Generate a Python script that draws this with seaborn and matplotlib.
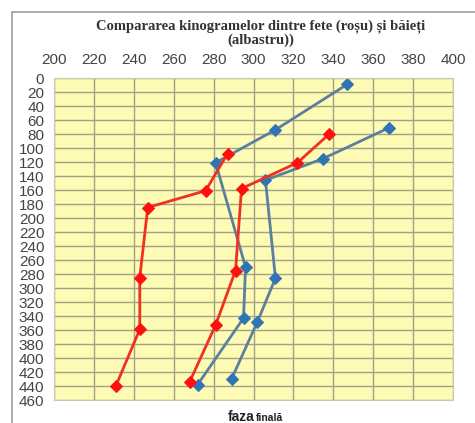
import numpy as np
import matplotlib
matplotlib.use("Agg")
import matplotlib.pyplot as plt
import seaborn as sns

sns.set_style("white")
plt.rcParams["font.family"] = ["Liberation Sans", "DejaVu Sans"]

# kinogram data: x = position, y = frame (0 at top)
blue1_x = [347, 311, 281, 296, 295, 272]
blue1_y = [9, 74, 121, 270, 343, 438]
blue2_x = [368, 335, 306, 311, 302, 289]
blue2_y = [71, 115, 146, 286, 348, 430]
red1_x = [338, 322, 294, 291, 281, 268]
red1_y = [80, 121, 158, 275, 353, 434]
red2_x = [287, 276, 247, 243, 243, 231]
red2_y = [108, 161, 185, 285, 359, 440]

x_ticks = list(range(200, 401, 20))
y_ticks = list(range(0, 461, 20))

title = "Compararea kinogramelor dintre fete (roșu) și băieți\n(albastru))"

fig = plt.figure(figsize=(4.75, 4.23), dpi=100)
fig.patch.set_facecolor("white")
ax = fig.add_axes([54 / 475, 23 / 423, 399 / 475, 322 / 423])
ax.set_facecolor("#fdfbb4")

series = [
    (blue1_x, blue1_y, "#5b7f9e", "#2f75b5"),
    (blue2_x, blue2_y, "#5b7f9e", "#2f75b5"),
    (red1_x, red1_y, "#f03020", "#ff1010"),
    (red2_x, red2_y, "#f03020", "#ff1010"),
]
for xs, ys, lc, mc in series:
    sns.lineplot(x=xs, y=ys, sort=False, estimator=None, ax=ax, color=lc,
                 linewidth=2.0, marker="D", markersize=6.5,
                 markerfacecolor=mc, markeredgecolor=mc)

ax.set_xlim(200, 400)
ax.set_ylim(460, 0)
ax.set_xticks(x_ticks)
ax.set_yticks(y_ticks)
ax.xaxis.tick_top()
ax.grid(True, color="#a4a286", linewidth=1.0)
ax.set_axisbelow(True)
ax.tick_params(axis="both", labelsize=11, colors="#444444", length=0)
ax.tick_params(axis="y", pad=7)
ax.tick_params(axis="x", pad=8)
for s in ax.spines.values():
    s.set_color("#c8c8b0")
    s.set_linewidth(0.8)

fig.text(261 / 475, 1 - 33 / 423, title, ha="center", va="center",
         fontsize=10.5, fontweight="bold", family="Liberation Serif",
         color="#333333", linespacing=0.95)

fig.text(254 / 475, 1 - 417 / 423, "faza", ha="right", va="center",
         fontsize=10, fontweight="bold", color="#222222")
fig.text(256 / 475, 1 - 418 / 423, "finală", ha="left", va="center",
         fontsize=7.5, fontweight="bold", color="#222222")

# outer chart frame (left and top edges visible)
fig.add_artist(plt.Line2D([12 / 475, 12 / 475], [0, 1 - 12 / 423],
                          color="#a0a0a0", linewidth=1.2))
fig.add_artist(plt.Line2D([12 / 475, 1], [1 - 12 / 423, 1 - 12 / 423],
                          color="#a0a0a0", linewidth=1.2))

fig.savefig("out.png", dpi=100)
